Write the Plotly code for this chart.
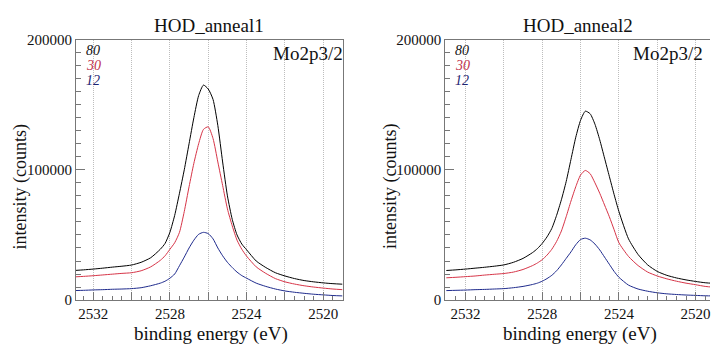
import plotly.graph_objects as go

# binding energy sample points (eV)
energy = [2533, 2532.5, 2532, 2531.5, 2531, 2530.5, 2530, 2529.5, 2529, 2528.5,
          2528.25, 2528, 2527.75, 2527.5, 2527.25, 2527, 2526.75, 2526.5, 2526.25, 2526,
          2525.75, 2525.5, 2525.25, 2525, 2524.75, 2524.5, 2524.25, 2524, 2523.5, 2523,
          2522.5, 2522, 2521.5, 2521, 2520.5, 2520, 2519.5, 2519]

# HOD_anneal1
a1_80 = [22700, 23200, 23800, 24500, 25300, 26000, 26900, 29000, 32500, 39000,
         43500, 52000, 65000, 82000, 100000, 120000, 140000, 157000, 165000, 162000,
         154000, 134000, 106000, 80000, 62000, 50000, 43000, 38600, 30000, 25000,
         21000, 18500, 16500, 15000, 14000, 13200, 12600, 12200]
a1_30 = [17800, 18200, 18700, 19300, 19900, 20500, 21000, 22500, 25500, 30500,
         34000, 39000, 44000, 52000, 68000, 87000, 105000, 120000, 131000, 133000,
         124000, 106000, 88000, 70000, 57000, 46000, 39000, 33700, 25500, 20500,
         16500, 14000, 12300, 11000, 10000, 9200, 8500, 8000]
a1_12 = [7300, 7500, 7800, 8000, 8300, 8500, 8800, 9500, 11000, 13000,
         14500, 16800, 20000, 26400, 33000, 40000, 46000, 50500, 52000, 51000,
         47000, 40000, 34000, 29000, 25000, 21500, 18800, 16800, 13000, 10500,
         8500, 7000, 6000, 5200, 4500, 4000, 3500, 3200]

# HOD_anneal2
a2_80 = [22700, 23200, 23800, 24500, 25200, 26000, 27000, 29000, 32000, 36500,
         39500, 43500, 48500, 55000, 65000, 77000, 91000, 108000, 125000, 138000,
         145000, 143000, 135000, 123000, 109000, 95000, 81000, 68000, 47000, 35000,
         27000, 22000, 19000, 17000, 15500, 14300, 13300, 12800]
a2_30 = [17100, 17500, 18000, 18500, 19200, 19800, 20400, 21500, 23500, 26500,
         28500, 31000, 34500, 39000, 45000, 53000, 64000, 76000, 87000, 96000,
         99500, 97000, 90000, 82000, 73000, 64000, 54000, 44000, 33500, 26500,
         21500, 18500, 16300, 14500, 13000, 11800, 10500, 9800]
a2_12 = [7300, 7500, 7700, 8000, 8200, 8500, 8800, 9500, 10500, 12000,
         13000, 14500, 16500, 19000, 22500, 27000, 32000, 37000, 42500, 46500,
         47500, 46200, 43000, 38500, 33000, 27500, 22000, 17500, 11500, 8500,
         6800, 5600, 4800, 4300, 3900, 3600, 3300, 3200]

series_labels = ["80", "30", "12"]
panel_titles = ["HOD_anneal1", "HOD_anneal2"]
peak_label = "Mo2p3/2"
x_tick_vals = [2520, 2522, 2524, 2526, 2528, 2530, 2532]
x_tick_text = ["2520", "", "2524", "", "2528", "", "2532"]
y_tick_vals = [0, 100000, 200000]
y_tick_text = ["0", "100000", "200000"]

colors = ["#000000", "#d63447", "#1e2a8c"]
label_colors = ["#111111", "#c0304a", "#1c2470"]
FONT = "Liberation Serif"
W, H = 711, 352

fig = go.Figure()
panels = [(a1_80, a1_30, a1_12), (a2_80, a2_30, a2_12)]
for p, data in enumerate(panels):
    xa = "x" if p == 0 else "x2"
    ya = "y" if p == 0 else "y2"
    for s, vals in enumerate(data):
        fig.add_trace(go.Scatter(x=energy, y=vals, mode="lines", xaxis=xa, yaxis=ya,
                                 line=dict(color=colors[s], width=1, shape="spline", smoothing=0.6),
                                 showlegend=False, hoverinfo="skip"))

# pixel layout
left = [(76, 343), (446, 711)]
top_px, bot_px = 33, 306
ranges = [[2532.9, 2519.0], [2533.05, 2519.25]]

def px(xp):
    return xp / W

def py(yp):
    return (H - yp) / H

axis_common = dict(showline=True, linecolor="#777777", linewidth=1, ticks="inside",
                   tickcolor="#777777", zeroline=False,
                   tickfont=dict(family=FONT, size=15, color="#111111"))

for p in range(2):
    xkey = "xaxis" if p == 0 else "xaxis2"
    ykey = "yaxis" if p == 0 else "yaxis2"
    fig.update_layout(**{
        xkey: dict(axis_common, domain=[px(left[p][0]), px(left[p][1])], range=ranges[p],
                   anchor="y" if p == 0 else "y2", mirror=True, ticklabeloverflow="allow",
                   tickmode="array", tickvals=x_tick_vals, ticktext=x_tick_text, ticklen=8,
                   showgrid=True, gridcolor="#bdbdbd", griddash="1px,1px", gridwidth=1,
                   minor=dict(dtick=0.5, tick0=2520, ticks="inside", ticklen=4,
                              tickcolor="#777777", showgrid=False)),
        ykey: dict(axis_common, domain=[py(bot_px), py(top_px)], range=[0, 200000],
                   anchor="x" if p == 0 else "x2", mirror=(p == 0),
                   tickmode="array", tickvals=y_tick_vals, ticktext=y_tick_text, ticklen=9,
                   showgrid=False,
                   minor=dict(dtick=10000, tick0=0, ticks="inside", ticklen=5,
                              tickcolor="#777777", showgrid=False)),
    })

ann = []
for p in range(2):
    cx = (left[p][0] + min(left[p][1], 713)) / 2
    ann.append(dict(text=panel_titles[p], x=px(cx), y=py(18), xref="paper", yref="paper",
                    showarrow=False, font=dict(family=FONT, size=19, color="#111111"),
                    xanchor="center", yanchor="middle"))
    ann.append(dict(text="binding energy (eV)", x=px(cx + 2), y=py(341), xref="paper", yref="paper",
                    showarrow=False, font=dict(family=FONT, size=19, color="#111111"),
                    xanchor="center", yanchor="middle"))
    ann.append(dict(text="intensity (counts)", x=px(21 if p == 0 else 391), y=py(187),
                    xref="paper", yref="paper", textangle=-90, showarrow=False,
                    font=dict(family=FONT, size=18, color="#111111"),
                    xanchor="center", yanchor="middle"))
    ann.append(dict(text=peak_label, x=px(271 if p == 0 else 632), y=py(48), xref="paper", yref="paper",
                    showarrow=False, font=dict(family=FONT, size=19, color="#111111"),
                    xanchor="left", yanchor="middle"))
    for s in range(3):
        ann.append(dict(text="<i>" + series_labels[s] + "</i>", x=px(84 if p == 0 else 454),
                        y=py(44 + 16 * s), xref="paper", yref="paper", showarrow=False,
                        font=dict(family=FONT, size=14, color=label_colors[s]),
                        xanchor="left", yanchor="middle"))

fig.update_layout(width=W, height=H, margin=dict(l=0, r=0, t=0, b=0),
                  paper_bgcolor="white", plot_bgcolor="white", annotations=ann)

fig.write_html("out.html", config={"displayModeBar": False},
               post_script="document.body.style.margin='0';document.body.style.overflow='hidden';")
